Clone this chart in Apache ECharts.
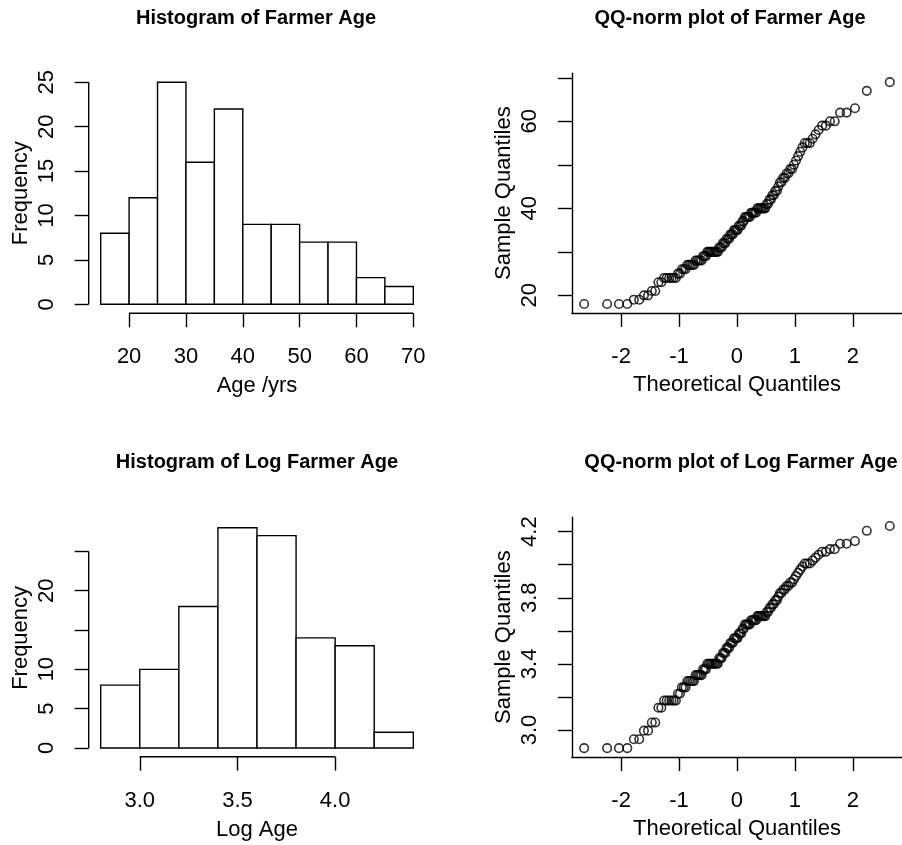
<!DOCTYPE html>
<html><head><meta charset="utf-8">
<script src="https://cdn.jsdelivr.net/npm/echarts@6/dist/echarts.min.js"></script>
<style>html,body{margin:0;padding:0;background:#fff}#c{width:902px;height:845px}</style>
</head><body><div id="c"></div>
<script>
// ---- Data ----
const ageBreaks = [15,20,25,30,35,40,45,50,55,60,65,70];
const ageCounts = [8,12,25,16,22,9,9,7,7,3,2];
const ageXTicks = [20,30,40,50,60,70];
const ageYTicks = [0,5,10,15,20,25];
const ageYLabels = [0,5,10,15,20,25];

const logBreaks = [2.8,3.0,3.2,3.4,3.6,3.8,4.0,4.2,4.4];
const logCounts = [8,10,18,28,27,14,13,2];
const logXTicks = [3.0,3.5,4.0];
const logYTicks = [0,5,10,15,20,25];
const logYLabels = [0,5,10,20];

const theoQuantiles = [
-2.638,-2.241,-2.037,-1.893,-1.780,-1.687,-1.606,-1.534,-1.470,-1.410,
-1.356,-1.305,-1.258,-1.213,-1.170,-1.130,-1.092,-1.055,-1.019,-0.984,
-0.951,-0.918,-0.887,-0.856,-0.827,-0.798,-0.769,-0.742,-0.714,-0.688,
-0.661,-0.636,-0.610,-0.585,-0.561,-0.536,-0.512,-0.489,-0.465,-0.442,
-0.419,-0.397,-0.374,-0.352,-0.330,-0.308,-0.286,-0.264,-0.243,-0.221,
-0.200,-0.179,-0.157,-0.136,-0.115,-0.094,-0.073,-0.052,-0.031,-0.010,
0.010,0.031,0.052,0.073,0.094,0.115,0.136,0.157,0.179,0.200,
0.221,0.243,0.264,0.286,0.308,0.330,0.352,0.374,0.397,0.419,
0.442,0.465,0.489,0.512,0.536,0.561,0.585,0.610,0.636,0.661,
0.688,0.714,0.742,0.769,0.798,0.827,0.856,0.887,0.918,0.951,
0.984,1.019,1.055,1.092,1.130,1.170,1.213,1.258,1.305,1.356,
1.410,1.470,1.534,1.606,1.687,1.780,1.893,2.037,2.241,2.638];

const sortedAges = [
18,18,18,18,19,19,20,20,
21,21,23,23,24,24,24,24,24,24,
25,25,
26,26,26,27,27,27,27,27,28,28,28,28,28,29,29,29,
30,30,30,30,30,30,30,30,30,
31,31,31,32,32,32,33,33,33,34,34,34,35,35,35,35,
36,36,36,
37,37,38,38,38,38,38,39,39,39,39,39,40,40,40,40,40,40,40,
41,41,42,42,43,43,44,44,
45,
46,46,47,47,48,48,49,49,50,
51,52,53,54,55,55,55,
56,57,58,59,59,60,60,
62,62,63,67,69];

const sortedLogAges = [
2.890,2.890,2.890,2.890,2.944,2.944,2.996,2.996,
3.045,3.045,3.135,3.135,3.178,3.178,3.178,3.178,3.178,3.178,
3.219,3.219,
3.258,3.258,3.258,3.296,3.296,3.296,3.296,3.296,3.332,3.332,3.332,3.332,3.332,3.367,3.367,3.367,
3.401,3.401,3.401,3.401,3.401,3.401,3.401,3.401,3.401,
3.434,3.434,3.434,3.466,3.466,3.466,3.497,3.497,3.497,3.526,3.526,3.526,3.555,3.555,3.555,3.555,
3.584,3.584,3.584,
3.611,3.611,3.638,3.638,3.638,3.638,3.638,3.664,3.664,3.664,3.664,3.664,3.689,3.689,3.689,3.689,3.689,3.689,3.689,
3.714,3.714,3.738,3.738,3.761,3.761,3.784,3.784,
3.807,
3.829,3.829,3.850,3.850,3.871,3.871,3.892,3.892,3.912,
3.932,3.951,3.970,3.989,4.007,4.007,4.007,
4.025,4.043,4.060,4.078,4.078,4.094,4.094,
4.127,4.127,4.143,4.205,4.234];

const qqXTicks = [-2,-1,0,1,2];
const qqYTicks = [20,30,40,50,60,70];
const qqYLabels = [20,40,60];
const logQqYTicks = [3.0,3.2,3.4,3.6,3.8,4.0,4.2];
const logQqYLabels = [3.0,3.4,3.8,4.2];

const titles = ['Histogram of Farmer Age','QQ-norm plot of Farmer Age','Histogram of Log Farmer Age','QQ-norm plot of Log Farmer Age'];

// ---- Styling ----
const FONT = 'Liberation Sans, Arial, sans-serif';
const LW = 1.4;
const TXT = '#000';
const AXFS = 22;
const TFS = 20;

const histData = (br, ct) => ct.map((c,i)=>[br[i], br[i+1], c]);

function histSeries(idx, br, ct){
  return {type:'custom', xAxisIndex:idx, yAxisIndex:idx, data:histData(br,ct), clip:false,
    renderItem:function(params, api){
      const p0 = api.coord([api.value(0), api.value(2)]);
      const p1 = api.coord([api.value(1), 0]);
      return {type:'rect', shape:{x:p0[0], y:p0[1], width:p1[0]-p0[0], height:p1[1]-p0[1]},
        style:{fill:'#fff', stroke:'#000', lineWidth:LW}};
    }};
}
// axis lines drawn between first and last tick (R style), with offset
function axisLineSeries(idx, xt, yt, xmin, xOff, yOff){
  return {type:'custom', xAxisIndex:idx, yAxisIndex:idx, clip:false, silent:true,
    data:[[xt[0], xt[xt.length-1], yt[0], yt[yt.length-1]]],
    renderItem:function(params, api){
      const a = api.coord([api.value(0), yt[0]]);
      const b = api.coord([api.value(1), yt[0]]);
      const c = api.coord([xmin, api.value(2)]);
      const d = api.coord([xmin, api.value(3)]);
      return {type:'group', children:[
        {type:'line', shape:{x1:a[0], y1:a[1]+xOff, x2:b[0], y2:b[1]+xOff}, style:{stroke:'#000', lineWidth:LW}},
        {type:'line', shape:{x1:c[0]-yOff, y1:c[1], x2:d[0]-yOff, y2:d[1]}, style:{stroke:'#000', lineWidth:LW}}
      ]};
    }};
}

function xAx(idx, min, max, ticks, labels, fmt, name, offset, showLine, nameGap){
  return {type:'value', gridIndex:idx, min:min, max:max, offset:offset,
    name:name, nameLocation:'middle', nameGap:nameGap,
    nameTextStyle:{fontFamily:FONT, fontSize:AXFS, color:TXT},
    axisLine:{show:showLine, onZero:false, lineStyle:{color:'#000', width:LW}},
    axisTick:{show:true, length:14, customValues:ticks, lineStyle:{color:'#000', width:LW}},
    axisLabel:{customValues:labels, margin:33, fontFamily:FONT, fontSize:AXFS, color:TXT, formatter:fmt, hideOverlap:false},
    splitLine:{show:false}};
}
function yAx(idx, min, max, ticks, labels, fmt, name, offset, showLine){
  return {type:'value', gridIndex:idx, min:min, max:max, offset:offset,
    name:name, nameLocation:'middle', nameGap:57, nameRotate:90,
    nameTextStyle:{fontFamily:FONT, fontSize:AXFS, color:TXT},
    axisLine:{show:showLine, onZero:false, lineStyle:{color:'#000', width:LW}},
    axisTick:{show:true, length:14, customValues:ticks, lineStyle:{color:'#000', width:LW}},
    axisLabel:{customValues:labels, rotate:90, margin:31, fontFamily:FONT, fontSize:AXFS, color:TXT, formatter:fmt, hideOverlap:false},
    splitLine:{show:false}};
}
const f0 = v => String(v);
const f1 = v => Number(v).toFixed(1);

const titleText = (t, x, y) => ({type:'text', x:x, y:y, style:{text:t, font:'bold '+TFS+'px '+FONT, fill:TXT, textAlign:'center', textVerticalAlign:'middle'}});

const chart = echarts.init(document.getElementById('c'), null, {renderer:'canvas'});
chart.setOption({
  animation:false,
  backgroundColor:'#fff',
  grid:[
    {left:100.7, top:82.3, width:312.6, height:222},
    {left:571.9, top:73.3, width:338.2, height:239.6},
    {left:100.7, top:527.8, width:312.6, height:220.2},
    {left:571.9, top:517.1, width:338.2, height:240}
  ],
  xAxis:[
    xAx(0, 15, 70, ageXTicks, ageXTicks, f0, 'Age /yrs', 9, false, 62),
    xAx(1, -2.849, 2.849, qqXTicks, qqXTicks, f0, 'Theoretical Quantiles', 0, true, 61),
    xAx(2, 2.8, 4.4, logXTicks, logXTicks, f1, 'Log Age', 8.7, false, 62),
    xAx(3, -2.849, 2.849, qqXTicks, qqXTicks, f0, 'Theoretical Quantiles', 0, true, 61)
  ],
  yAxis:[
    yAx(0, 0, 25, ageYTicks, ageYLabels, f0, 'Frequency', 12, false),
    yAx(1, 15.96, 71.04, qqYTicks, qqYLabels, f0, 'Sample Quantiles', 0, true),
    yAx(2, 0, 28, logYTicks, logYLabels, f0, 'Frequency', 12, false),
    yAx(3, 2.836, 4.288, logQqYTicks, logQqYLabels, f1, 'Sample Quantiles', 0, true)
  ],
  graphic:[
    titleText(titles[0], 256, 18),
    titleText(titles[1], 730, 18),
    titleText(titles[2], 257, 462),
    titleText(titles[3], 741, 462)
  ],
  series:[
    histSeries(0, ageBreaks, ageCounts),
    axisLineSeries(0, ageXTicks, ageYTicks, ageBreaks[0], 9, 12),
    {type:'scatter', xAxisIndex:1, yAxisIndex:1, data:theoQuantiles.map((t,i)=>[t, sortedAges[i]]),
      symbol:'circle', symbolSize:8.5, itemStyle:{color:'rgba(0,0,0,0)', borderColor:'#000', borderWidth:1.6}},
    histSeries(2, logBreaks, logCounts),
    axisLineSeries(2, logXTicks, logYTicks, logBreaks[0], 8.7, 12),
    {type:'scatter', xAxisIndex:3, yAxisIndex:3, data:theoQuantiles.map((t,i)=>[t, sortedLogAges[i]]),
      symbol:'circle', symbolSize:8.5, itemStyle:{color:'rgba(0,0,0,0)', borderColor:'#000', borderWidth:1.6}}
  ]
});
</script>
</body></html>
